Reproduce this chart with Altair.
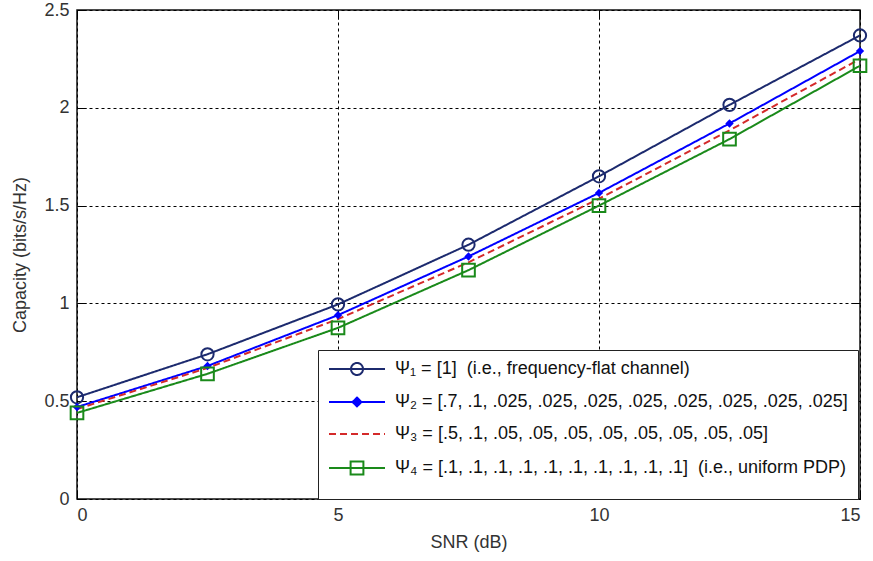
import altair as alt
import pandas as pd

# SNR sweep (dB)
snr = [0, 2.5, 5, 7.5, 10, 12.5, 15]

# Ergodic capacity (bits/s/Hz) for each power-delay profile
cap_psi1 = [0.52, 0.74, 0.995, 1.30, 1.65, 2.015, 2.37]
cap_psi2 = [0.47, 0.68, 0.94, 1.24, 1.565, 1.92, 2.29]
cap_psi3 = [0.46, 0.67, 0.92, 1.21, 1.535, 1.885, 2.25]
cap_psi4 = [0.44, 0.64, 0.875, 1.17, 1.50, 1.84, 2.215]

labels = [
    "Ψ₁ = [1] \u00a0(i.e., frequency-flat channel)",
    "Ψ₂ = [.7, .1, .025, .025, .025, .025, .025, .025, .025, .025]",
    "Ψ₃ = [.5, .1, .05, .05, .05, .05, .05, .05, .05, .05]",
    "Ψ₄ = [.1, .1, .1, .1, .1, .1, .1, .1, .1, .1] \u00a0(i.e., uniform PDP)",
]
colors = ["#1c2a6e", "#0000ff", "#d42a2a", "#1a8a1a"]
dashes = [[1, 0], [1, 0], [7, 4], [1, 0]]

x_ticks = [0, 5, 10, 15]
y_ticks = [0, 0.5, 1, 1.5, 2, 2.5]

# legend glyphs: a short line segment with the series marker on top
legend_glyphs = [
    "M-3.5,0H3.5M0.75,0A0.75,0.75 0 1,1 -0.75,0A0.75,0.75 0 1,1 0.75,0",
    "M-3.5,0H3.5M0,-0.55L0.55,0L0,0.55L-0.55,0ZM0,-0.3L0.3,0L0,0.3L-0.3,0Z",
    "M-3.5,0H3.5",
    "M-3.5,0H3.5M-0.8,-0.8H0.8V0.8H-0.8Z",
]

rows = []
for lab, ys in zip(labels, [cap_psi1, cap_psi2, cap_psi3, cap_psi4]):
    for x, y in zip(snr, ys):
        rows.append({"snr": x, "cap": y, "series": lab})
df = pd.DataFrame(rows)

x_scale = alt.Scale(domain=[0, 15], nice=False)
y_scale = alt.Scale(domain=[0, 2.5], nice=False)

# bottom/left axes carry labels, grid and inward ticks
x_main = alt.X("snr:Q", scale=x_scale,
               axis=alt.Axis(values=x_ticks, title="SNR (dB)", format="~g", grid=True,
                             ticks=True, tickSize=9, offset=-9, labelPadding=7))
y_main = alt.Y("cap:Q", scale=y_scale,
               axis=alt.Axis(values=y_ticks, title="Capacity (bits/s/Hz)", format="~g", grid=True,
                             ticks=True, tickSize=9, offset=-9, labelPadding=8))
# top/right axes: inward ticks only
x_top = alt.X("snr:Q", scale=x_scale,
              axis=alt.Axis(orient="top", values=x_ticks, title=None, labels=False, grid=False,
                            ticks=True, tickSize=9, offset=-9))
y_right = alt.Y("cap:Q", scale=y_scale,
                axis=alt.Axis(orient="right", values=y_ticks, title=None, labels=False, grid=False,
                              ticks=True, tickSize=9, offset=-9))
x_plain = alt.X("snr:Q", scale=x_scale, axis=None)
y_plain = alt.Y("cap:Q", scale=y_scale, axis=None)

color_enc = alt.Color("series:N", scale=alt.Scale(domain=labels, range=colors), legend=None)

lines = alt.Chart(df).mark_line(strokeWidth=2).encode(
    x=x_main, y=y_main, color=color_enc,
    strokeDash=alt.StrokeDash("series:N", scale=alt.Scale(domain=labels, range=dashes), legend=None),
)

circles = alt.Chart(df).transform_filter(alt.datum.series == labels[0]).mark_point(
    shape="circle", filled=False, strokeWidth=2, size=150, opacity=1
).encode(x=x_plain, y=y_plain, color=color_enc)

diamonds = alt.Chart(df).transform_filter(alt.datum.series == labels[1]).mark_point(
    shape="diamond", filled=True, size=70, opacity=1
).encode(x=x_plain, y=y_plain, color=color_enc)

squares = alt.Chart(df).transform_filter(alt.datum.series == labels[3]).mark_point(
    shape="square", filled=False, strokeWidth=2, size=160, opacity=1
).encode(x=x_plain, y=y_plain, color=color_enc)

leg = alt.Legend(title="\u00a0", orient="none", legendX=241, legendY=340)
legend_layer = alt.Chart(df).mark_point(filled=False, strokeOpacity=0, strokeWidth=2, size=256).encode(
    x=x_top, y=y_right,
    color=alt.Color("series:N", scale=alt.Scale(domain=labels, range=colors), sort=labels, legend=leg),
    shape=alt.Shape("series:N", scale=alt.Scale(domain=labels, range=legend_glyphs), sort=labels,
                    legend=leg),
    strokeDash=alt.StrokeDash("series:N", scale=alt.Scale(domain=labels, range=dashes), sort=labels,
                              legend=leg),
)

chart = alt.layer(lines, circles, diamonds, squares, legend_layer).resolve_axis(
    x="independent", y="independent"
).resolve_legend(
    color="independent", shape="independent", strokeDash="independent"
).properties(
    width=783, height=489,
    autosize=alt.AutoSizeParams(type="none"),
    padding={"left": 77, "top": 10, "right": 13, "bottom": 62},
).configure_view(
    stroke="#111", strokeWidth=1.5
).configure_axis(
    domain=False, tickColor="#000", tickWidth=1,
    gridColor="#000", gridDash=[3, 3], gridWidth=1, gridOpacity=1,
    labelFont="Liberation Sans", labelFontSize=18, labelColor="#333",
    titleFont="Liberation Sans", titleFontSize=18, titleFontWeight="normal", titleColor="#333",
).configure_axisX(
    titlePadding=9,
).configure_axisY(
    titlePadding=14,
).configure_legend(
    orient="none", legendX=241, legendY=340,
    labelFont="Liberation Sans", labelFontSize=18, labelColor="#111", labelLimit=0,
    titleOrient="bottom", titleFontSize=8, titlePadding=3,
    strokeColor="#222", fillColor="white", padding=10,
    symbolStrokeWidth=2, symbolSize=256, symbolOpacity=1,
    symbolOffset=20, labelOffset=29, rowPadding=14,
)

chart.save("out.html", embed_options={"renderer": "svg", "actions": False})
